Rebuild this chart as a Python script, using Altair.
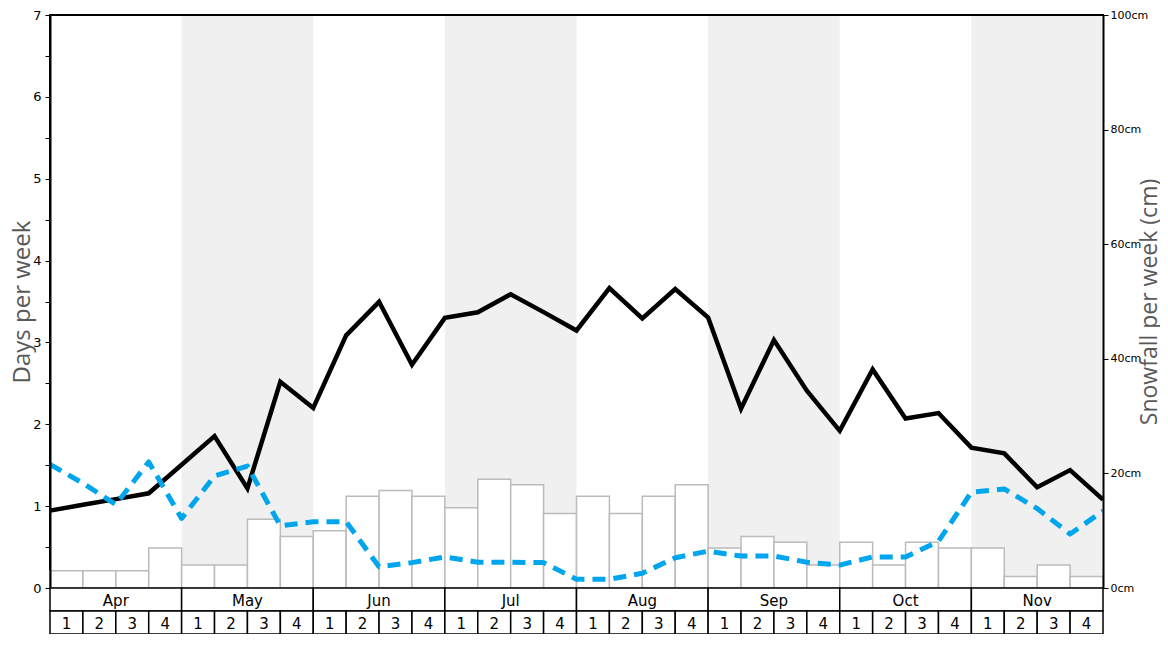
import altair as alt
import pandas as pd

# ---------------- data ----------------
months = ["Apr", "May", "Jun", "Jul", "Aug", "Sep", "Oct", "Nov"]
week_numbers = ["1", "2", "3", "4"]

# days per week, values at week boundaries (33 points)
days_black = [0.945, 1.016, 1.086, 1.157, 1.506, 1.856, 1.216, 2.52, 2.20, 3.087,
              3.496, 2.728, 3.30, 3.368, 3.589, 3.37, 3.146, 3.663, 3.294, 3.653,
              3.304, 2.19, 3.03, 2.41, 1.92, 2.67, 2.07, 2.137, 1.715, 1.645,
              1.23, 1.44, 1.08]
days_blue = [1.51, 1.28, 1.02, 1.54, 0.85, 1.37, 1.49, 0.76, 0.81, 0.81,
             0.26, 0.31, 0.38, 0.315, 0.315, 0.31, 0.107, 0.107, 0.18, 0.37,
             0.45, 0.39, 0.39, 0.315, 0.28, 0.38, 0.38, 0.57, 1.17, 1.21,
             0.97, 0.66, 0.94]

# snowfall per week (cm)
snowfall_cm = [3, 3, 3, 7, 4, 4, 12, 9,
               10, 16, 17, 16, 14, 19, 18, 13,
               16, 13, 16, 18, 7, 9, 8, 4,
               8, 4, 8, 7, 7, 2, 4, 2]

W, H = 1053, 573
ROW = 23

n_weeks = len(months) * len(week_numbers)
week_df = pd.DataFrame({
    "start": list(range(n_weeks)),
    "end": [i + 1 for i in range(n_weeks)],
    "mid": [i + 0.5 for i in range(n_weeks)],
    "week": [w for m in months for w in week_numbers],
    "snow": snowfall_cm,
})
month_df = pd.DataFrame({
    "start": [4 * i for i in range(len(months))],
    "end": [4 * i + 4 for i in range(len(months))],
    "mid": [4 * i + 2 for i in range(len(months))],
    "month": months,
    "shaded": [i % 2 == 1 for i in range(len(months))],
})
line_df = pd.DataFrame({
    "x": list(range(n_weeks + 1)),
    "black": days_black,
    "blue": days_blue,
})

xscale = alt.Scale(domain=[0, n_weeks], nice=False, zero=False)


def X(f):
    return alt.X(f"{f}:Q", scale=xscale, axis=None)


def X2(f):
    return alt.X2(f"{f}:Q")


bg = alt.Chart(month_df).transform_filter("datum.shaded").mark_rect(
    fill="#f0f0f0"
).encode(x=X("start"), x2=X2("end"), y=alt.value(1), y2=alt.value(H))

bars = alt.Chart(week_df).mark_rect(
    fill="white", stroke="#bbbbbb", strokeWidth=1.5
).encode(
    x=X("start"), x2=X2("end"),
    y=alt.Y("snow:Q", scale=alt.Scale(domain=[0, 100], nice=False),
            axis=alt.Axis(orient="right", values=[0, 20, 40, 60, 80, 100],
                          labelExpr="datum.value + 'cm'",
                          title="Snowfall per week (cm)",
                          titleAngle=270, titleX=46, titleY=H / 2,
                          titleAlign="center", titleBaseline="middle",
                          titleFontSize=23, titleColor="#595959",
                          titleFont="Open Sans", titleFontWeight="normal",
                          labelFontSize=11, labelColor="black",
                          labelFont="DejaVu Sans", labelPadding=2,
                          tickSize=5, tickColor="black", tickWidth=1,
                          domainColor="black", domainWidth=2,
                          grid=False, zindex=1)),
    y2=alt.datum(0),
)

black_line = alt.Chart(line_df).mark_line(
    color="black", strokeWidth=4.5, strokeJoin="miter"
).encode(
    x=X("x"),
    y=alt.Y("black:Q", scale=alt.Scale(domain=[0, 7], nice=False),
            axis=alt.Axis(orient="left",
                          values=[i * 0.5 for i in range(15)],
                          labelExpr="datum.value % 1 == 0 ? format(datum.value, 'd') : ''",
                          title="Days per week",
                          titleAngle=270, titleX=-28, titleY=H / 2,
                          titleAlign="center", titleBaseline="middle",
                          titleFontSize=24, titleColor="#595959",
                          titleFont="Open Sans", titleFontWeight="normal",
                          labelFontSize=13, labelColor="black",
                          labelFont="DejaVu Sans", labelPadding=4,
                          tickSize=5, tickColor="black", tickWidth=1,
                          domainColor="black", domainWidth=2,
                          grid=False, zindex=1)),
)

blue_line = alt.Chart(line_df).mark_line(
    color="#00a6ed", strokeWidth=5, strokeDash=[13, 8], strokeJoin="round"
).encode(
    x=X("x"),
    y=alt.Y("blue:Q", scale=alt.Scale(domain=[0, 7], nice=False), axis=None),
)

month_box = alt.Chart(month_df).mark_rect(
    fill="white", stroke="black", strokeWidth=1.5
).encode(x=X("start"), x2=X2("end"), y=alt.value(H), y2=alt.value(H + ROW))
month_text = alt.Chart(month_df).mark_text(
    fontSize=15, font="DejaVu Sans", color="black", baseline="middle"
).encode(x=X("mid"), y=alt.value(H + ROW / 2 + 1), text="month:N")

week_box = alt.Chart(week_df).mark_rect(
    fill="white", stroke="black", strokeWidth=1.5
).encode(x=X("start"), x2=X2("end"), y=alt.value(H + ROW), y2=alt.value(H + 2 * ROW))
week_text = alt.Chart(week_df).mark_text(
    fontSize=15, font="DejaVu Sans", color="black", baseline="middle"
).encode(x=X("mid"), y=alt.value(H + ROW + ROW / 2 + 1), text="week:N")

chart = alt.layer(
    bg, bars, black_line, blue_line, month_box, month_text, week_box, week_text
).resolve_scale(y="independent").properties(
    width=W, height=H,
    autosize=alt.AutoSizeParams(type="none"),
    padding={"left": 42, "top": 7, "right": 57, "bottom": 2 * ROW},
).configure_view(stroke="black", strokeWidth=2)

chart.save("out.html", embed_options={"renderer": "svg", "actions": False})
